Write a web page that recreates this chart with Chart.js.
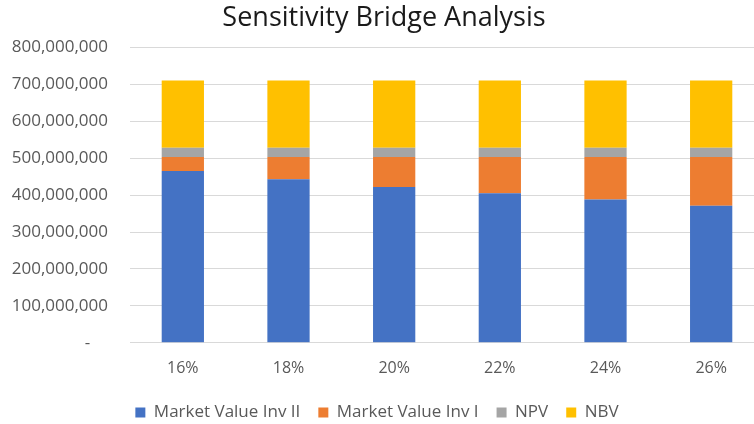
<!DOCTYPE html>
<html>
<head>
<meta charset="utf-8">
<script src="https://cdn.jsdelivr.net/npm/chart.js@4"></script>
<style>
  html, body { margin: 0; padding: 0; background: #fff; overflow: hidden; }
  #wrap { width: 770px; height: 424px; }
</style>
</head>
<body>
<div id="wrap"><canvas id="grafico" width="770" height="424"></canvas></div>
<script>
const categorias = ['16%', '18%', '20%', '22%', '24%', '26%'];
const mvInvII = [465000000, 443000000, 422000000, 405000000, 388000000, 371000000];
const mvInvI = [38500000, 60500000, 81500000, 98500000, 115500000, 132500000];
const npv = [25000000, 25000000, 25000000, 25000000, 25000000, 25000000];
const nbv = [182000000, 182000000, 182000000, 182000000, 182000000, 182000000];
const yMax = 800000000;
const yStep = 100000000;

const FONTE = "'Open Sans', sans-serif";
const COR_TEXTO = '#595959';

// a legenda do Excel fica um pouco à esquerda do centro
const deslocaLegenda = {
    id: 'deslocaLegenda',
    afterLayout(chart) {
        chart.legend.left -= 7;
        chart.legend.right -= 7;
    }
};

const ctx = document.getElementById('grafico');

const grafico = new Chart(ctx, {
    type: 'bar',
    data: {
        labels: categorias,
        datasets: [
            { label: 'Market Value Inv II', data: mvInvII, backgroundColor: '#4472C4' },
            { label: 'Market Value Inv I', data: mvInvI, backgroundColor: '#ED7D31' },
            { label: 'NPV', data: npv, backgroundColor: '#A5A5A5' },
            { label: 'NBV', data: nbv, backgroundColor: '#FFC000' }
        ]
    },
    plugins: [deslocaLegenda],
    options: {
        responsive: false,
        animation: false,
        layout: { padding: { left: 4, right: 6, top: 2, bottom: -7 } },
        datasets: {
            bar: { categoryPercentage: 1.0, barPercentage: 0.4 }
        },
        scales: {
            x: {
                stacked: true,
                grid: { display: false },
                border: { display: false },
                ticks: { color: COR_TEXTO, font: { family: FONTE, size: 16 }, padding: 8 }
            },
            y: {
                stacked: true,
                min: 0,
                max: yMax,
                border: { display: false },
                grid: { color: '#d9d9d9', lineWidth: 1, drawTicks: false },
                afterFit: (s) => { s.width = 126; },
                ticks: {
                    stepSize: yStep,
                    color: COR_TEXTO,
                    padding: 22,
                    font: { family: FONTE, size: 17 },
                    callback: (v) => v === 0 ? '-    ' : v.toLocaleString('en-US')
                }
            }
        },
        plugins: {
            title: {
                display: true,
                text: 'Sensitivity Bridge Analysis',
                color: '#1a1a1a',
                font: { family: FONTE, size: 27, weight: 'normal' },
                padding: { top: 0, bottom: 13 }
            },
            legend: {
                position: 'bottom',
                labels: {
                    color: COR_TEXTO,
                    font: { family: FONTE, size: 17 },
                    boxWidth: 10,
                    boxHeight: 10,
                    padding: 18
                }
            },
            tooltip: { enabled: false }
        }
    }
});
</script>
</body>
</html>
